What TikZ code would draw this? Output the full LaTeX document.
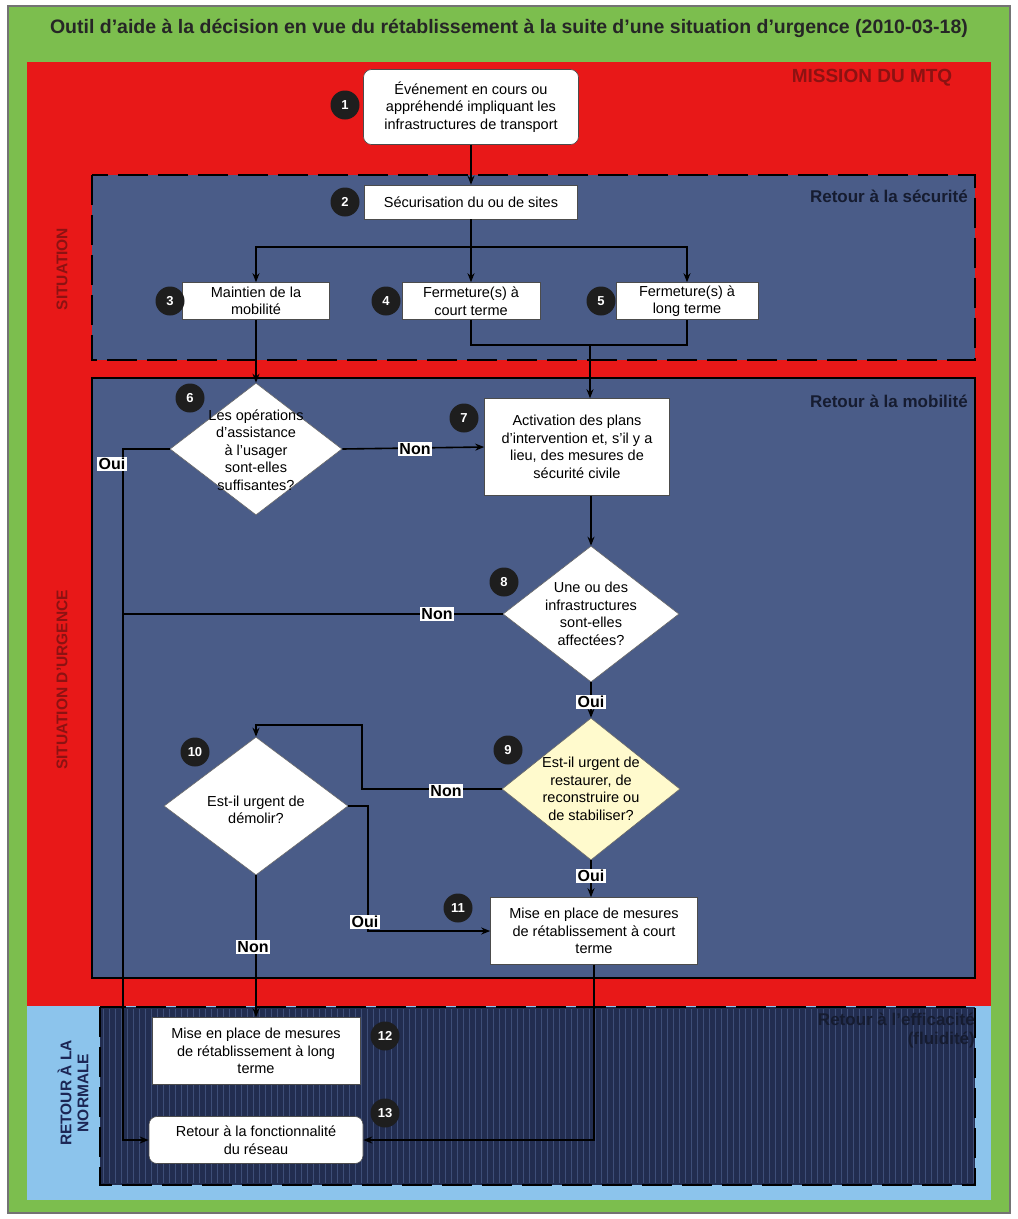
\documentclass[tikz,border=0pt]{standalone}
\usepackage{fontspec}
\setmainfont{Liberation Sans}
\usetikzlibrary{shapes.geometric,arrows.meta}
\definecolor{bggreen}{RGB}{124,190,78}
\definecolor{bgred}{RGB}{232,24,24}
\definecolor{bglblue}{RGB}{140,196,236}
\definecolor{secblue}{RGB}{74,92,136}
\definecolor{secnavy}{RGB}{34,45,80}
\definecolor{navyline}{RGB}{62,78,120}
\definecolor{secdark}{RGB}{22,28,48}
\definecolor{darkred}{RGB}{140,18,18}
\definecolor{sidenavy}{RGB}{28,38,84}
\definecolor{paleyellow}{RGB}{255,250,205}
\definecolor{badgeblack}{RGB}{30,30,30}
\begin{document}
\begin{tikzpicture}[x=1pt,y=-1pt,
  box/.style={draw=black!70, line width=0.6pt, fill=white, align=center, font=\fontsize{14.5}{17.5}\selectfont, inner sep=0pt},
  rbox/.style={box, rounded corners=8pt},
  dia/.style={diamond, draw=black!60, line width=0.6pt, fill=white, inner sep=0pt},
  dtext/.style={align=center, font=\fontsize{14.5}{17.5}\selectfont, inner sep=0pt},
  badge/.style={circle, fill=badgeblack, text=white, font=\fontsize{13}{13}\selectfont\bfseries, minimum size=29pt, inner sep=0pt},
  lab/.style={fill=white, inner sep=1.5pt, font=\fontsize{16}{16}\selectfont\bfseries},
  arr/.style={line width=1.6pt, -{Stealth[length=9pt,width=7pt]}},
  ln/.style={line width=1.6pt},
  sec/.style={font=\fontsize{17}{19}\selectfont\bfseries, text=secdark, anchor=east, align=right, inner sep=0pt},
  side/.style={font=\fontsize{15.5}{17}\selectfont\bfseries, rotate=90, align=center, inner sep=0pt}
]
% backgrounds
\fill[white] (0,0) rectangle (1018,1219);
\useasboundingbox (0,0) rectangle (1018,1219);
\filldraw[fill=bggreen, draw=black!55, line width=2pt] (8,6) rectangle (1010,1213);
\fill[bgred] (27,62) rectangle (991,1006);
\fill[bglblue] (27,1006) rectangle (991,1200);
\filldraw[fill=secblue, draw=black, line width=2.5pt, dash pattern=on 30pt off 10pt] (92,175) rectangle (975,360);
\filldraw[fill=secblue, draw=black, line width=2.5pt] (92,378) rectangle (975,978);
\fill[secnavy] (100,1007) rectangle (975,1185);
\foreach \i in {0,...,145} \draw[navyline, line width=0.9pt] (103+6*\i,1009) -- (103+6*\i,1183);
\draw[black, line width=2.5pt, dash pattern=on 30pt off 10pt] (100,1007) rectangle (975,1185);

% title
\node[font=\fontsize{19.5}{19.5}\selectfont\bfseries, text=black!85, inner sep=0pt] (title) at (509,28) {Outil d'aide à la décision en vue du rétablissement à la suite d'une situation d'urgence (2010-03-18)};

% section labels
\node[font=\fontsize{19}{19}\selectfont\bfseries, text=darkred, inner sep=0pt] (mission) at (872,78) {MISSION DU MTQ};
\node[sec] (s1) at (968,196) {Retour à la sécurité};
\node[sec] (s2) at (968,401) {Retour à la mobilité};
\node[sec] (s3) at (975,1031) {Retour à l'efficacité\\(fluidité)};
\node[side, text=darkred] (side1) at (62,269) {SITUATION};
\node[side, text=darkred] (side2) at (62,680) {SITUATION D'URGENCE};
\node[side, text=sidenavy] (side3) at (73,1093) {RETOUR À LA\\NORMALE};

% nodes
\node[rbox, minimum width=215pt, minimum height=75pt] (n1) at (471,107) {Événement en cours ou\\appréhendé impliquant les\\infrastructures de transport};
\node[box, minimum width=213pt, minimum height=34pt] (n2) at (471,202) {Sécurisation du ou de sites};
\node[box, minimum width=147pt, minimum height=37pt] (n3) at (256,301) {Maintien de la\\mobilité};
\node[box, minimum width=138pt, minimum height=37pt] (n4) at (471,301) {Fermeture(s) à\\court terme};
\node[box, minimum width=142pt, minimum height=37pt] (n5) at (687,301) {Fermeture(s) à\\long terme};
\node[dia, minimum width=172pt, minimum height=132pt] (n6) at (256,449) {};
\node[dtext] (n6t) at (256,450) {Les opérations\\d'assistance\\à l'usager\\sont-elles\\suffisantes?};
\node[box, minimum width=185pt, minimum height=97pt] (n7) at (577,447) {Activation des plans\\d'intervention et, s'il y a\\lieu, des mesures de\\sécurité civile};
\node[dia, minimum width=176pt, minimum height=136pt] (n8) at (591,614) {};
\node[dtext] (n8t) at (591,614) {Une ou des\\infrastructures\\sont-elles\\affectées?};
\node[dia, fill=paleyellow, minimum width=178pt, minimum height=142pt] (n9) at (591,789) {};
\node[dtext] (n9t) at (591,789) {Est-il urgent de\\restaurer, de\\reconstruire ou\\de stabiliser?};
\node[dia, minimum width=184pt, minimum height=138pt] (n10) at (256,806) {};
\node[dtext] (n10t) at (256,810) {Est-il urgent de\\démolir?};
\node[box, minimum width=207pt, minimum height=67pt] (n11) at (594,931) {Mise en place de mesures\\de rétablissement à court\\terme};
\node[box, minimum width=208pt, minimum height=67pt] (n12) at (256,1051) {Mise en place de mesures\\de rétablissement à long\\terme};
\node[rbox, minimum width=214pt, minimum height=47pt] (n13) at (256,1140) {Retour à la fonctionnalité\\du réseau};

% junctions
\coordinate (j1) at (471,247);
\coordinate (j2) at (590,345);
\coordinate (j3) at (123,449);
\coordinate (j5) at (362,725);
\coordinate (j7) at (368,931);

% connectors
\draw[arr] (n1) -- (n2);
\draw[ln] (n2.south) -- (j1);
\draw[arr] (j1) -| (n3.north);
\draw[arr] (j1) -- (n4.north);
\draw[arr] (j1) -| (n5.north);
\draw[ln] (n4.south) |- (j2) -| (n5.south);
\draw[arr] (j2) -- (j2 |- n7.north);
\draw[arr] (n3.south) -- (n6.north);
\draw[arr] (n6.east) -- (n7.west);
\draw[arr] (n6.west) -- (j3) -- (j3 |- n13.west) -- (n13.west);
\draw[arr] (n8.north |- n7.south) -- (n8.north);
\draw[ln] (n8.west) -- (j3 |- n8.west);
\draw[arr] (n8.south) -- (n9.north);
\draw[arr] (n9.west) -| (j5) -| (n10.north);
\draw[arr] (n9.south) -- (n11.north -| n9.south);
\draw[arr] (n10.east) -| (j7) -- (n11.west);
\draw[arr] (n10.south) -- (n12.north);
\draw[arr] (n11.south) |- (n13.east);

% connector labels
\node[lab] (l1) at (415,449) {Non};
\node[lab] (l2) at (112,464) {Oui};
\node[lab] (l3) at (437,614) {Non};
\node[lab] (l4) at (591,702) {Oui};
\node[lab] (l5) at (446,791) {Non};
\node[lab] (l6) at (591,876) {Oui};
\node[lab] (l7) at (365,922) {Oui};
\node[lab] (l8) at (253,947) {Non};

% badges
\node[badge] (b1) at (345,105) {1};
\node[badge] (b2) at (345,202) {2};
\node[badge] (b3) at (170,301) {3};
\node[badge] (b4) at (386,301) {4};
\node[badge] (b5) at (601,301) {5};
\node[badge] (b6) at (190,398) {6};
\node[badge] (b7) at (464,418) {7};
\node[badge] (b8) at (504,582) {8};
\node[badge] (b9) at (508,750) {9};
\node[badge] (b10) at (195,752) {10};
\node[badge] (b11) at (458,908) {11};
\node[badge] (b12) at (385,1036) {12};
\node[badge] (b13) at (385,1113) {13};
\end{tikzpicture}
\end{document}
